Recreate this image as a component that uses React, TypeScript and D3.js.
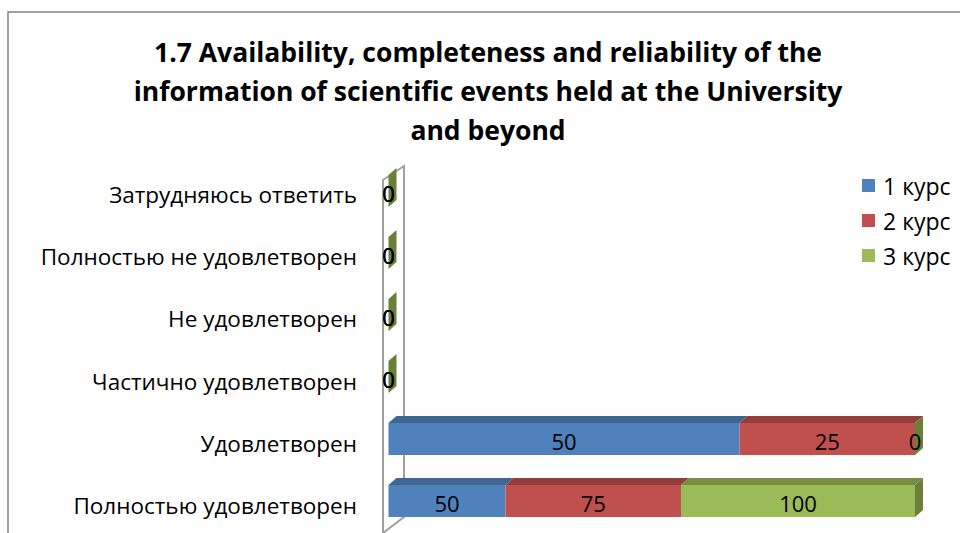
import React from "react";
import * as d3 from "d3";

const categories = [
  "Затрудняюсь ответить",
  "Полностью не удовлетворен",
  "Не удовлетворен",
  "Частично удовлетворен",
  "Удовлетворен",
  "Полностью удовлетворен",
];
const seriesNames = ["1 курс", "2 курс", "3 курс"];
const course1 = [0, 0, 0, 0, 50, 50];
const course2 = [0, 0, 0, 0, 25, 75];
const course3 = [0, 0, 0, 0, 0, 100];
const titleLines = [
  "1.7 Availability, completeness and reliability of the",
  "information of scientific events held at the University",
  "and beyond",
];

const W = 960;
const H = 533;
const front = ["#4F81BD", "#C0504D", "#9BBB59"];
const topC = ["#3D6692", "#943D3B", "#778F42"];
const sideC = ["#3A5F89", "#8A3936", "#6A7F38"];
const FONT = "'Open Sans', 'Noto Sans', sans-serif";

export default function App() {
  const rows = categories.map((c, i) => ({
    cat: c,
    s0: course1[i],
    s1: course2[i],
    s2: course3[i],
  }));
  const keys = ["s0", "s1", "s2"];
  const stack = d3.stack<any>().keys(keys).offset(d3.stackOffsetExpand);
  const series = stack(rows);

  const x = d3.scaleLinear().domain([0, 1]).range([388.5, 915]);
  const y = d3
    .scaleBand<string>()
    .domain(categories)
    .range([160, 532])
    .paddingInner(0.4839)
    .paddingOuter(0.2419);
  const bw = y.bandwidth();
  const dx = 8;
  const dy = -7;

  const wallX = x(0) - 5.5;
  const wallDX = 21;
  const wallTop = (y(categories[0]) as number) - 9;
  const wallBottom = (y(categories[categories.length - 1]) as number) + bw;

  const pts = (p: number[][]) => p.map((q) => q.join(",")).join(" ");

  return (
    <svg width={W} height={H} style={{ position: "absolute", left: 0, top: 0, background: "#fff" }}>
      <rect x={8} y={12} width={W} height={H} fill="#fff" stroke="#8a8a8a" strokeWidth={1.6} />
      {titleLines.map((t, i) => (
        <text
          key={i}
          x={488}
          y={62 + i * 39}
          textAnchor="middle"
          fontFamily={FONT}
          fontWeight="bold"
          fontSize={26.5}
          fill="#000"
        >
          {t}
        </text>
      ))}
      {/* side wall */}
      <polygon
        points={pts([
          [wallX, wallTop + 14],
          [wallX + wallDX, wallTop],
          [wallX + wallDX, wallBottom],
          [wallX, wallBottom + 16],
        ])}
        fill="#fff"
        stroke="#a0a0a0"
        strokeWidth={2}
      />
      <line x1={wallX} x2={wallX} y1={wallBottom + 16} y2={H + 5} stroke="#a0a0a0" strokeWidth={2} />
      {/* category labels */}
      {categories.map((c) => (
        <text
          key={c}
          x={357}
          y={(y(c) as number) + bw / 2 + 4}
          textAnchor="end"
          dominantBaseline="central"
          fontFamily={FONT}
          fontSize={22.5}
          fill="#000"
        >
          {c}
        </text>
      ))}
      {/* bars */}
      {series.map((s, si) =>
        s.map((d, j) => {
          const cat = categories[j];
          const y0 = y(cat) as number;
          const y1 = y0 + bw;
          const xa = x(d[0]);
          const xb = x(d[1]);
          return (
            <g key={si + "-" + j}>
              {xb > xa && (
                <>
                  <rect x={xa} y={y0} width={xb - xa} height={bw} fill={front[si]} />
                  <polygon
                    points={pts([
                      [xa, y0],
                      [xa + dx, y0 + dy],
                      [xb + dx, y0 + dy],
                      [xb, y0],
                    ])}
                    fill={topC[si]}
                  />
                </>
              )}
              {si === series.length - 1 && (
                <polygon
                  points={pts([
                    [xb, y0],
                    [xb + dx, y0 + dy],
                    [xb + dx, y1 + dy],
                    [xb, y1],
                  ])}
                  fill={sideC[si]}
                />
              )}
            </g>
          );
        })
      )}
      {/* value labels */}
      {series.map((s, si) =>
        s.map((d, j) => {
          const vals = [course1, course2, course3][si];
          const cat = categories[j];
          const y0 = y(cat) as number;
          return (
            <text
              key={"l" + si + "-" + j}
              x={(x(d[0]) + x(d[1])) / 2}
              y={y0 + bw / 2 + 2}
              textAnchor="middle"
              dominantBaseline="central"
              fontFamily={FONT}
              fontSize={22}
              fill="#000"
            >
              {vals[j]}
            </text>
          );
        })
      )}
      {/* legend */}
      {seriesNames.map((n, i) => (
        <g key={n} transform={`translate(862, ${186 + i * 35})`}>
          <rect x={0} y={-7} width={13} height={13} fill={front[i]} />
          <text x={21} y={0} dominantBaseline="central" fontFamily={FONT} fontSize={23} fill="#000">
            {n}
          </text>
        </g>
      ))}
    </svg>
  );
}
